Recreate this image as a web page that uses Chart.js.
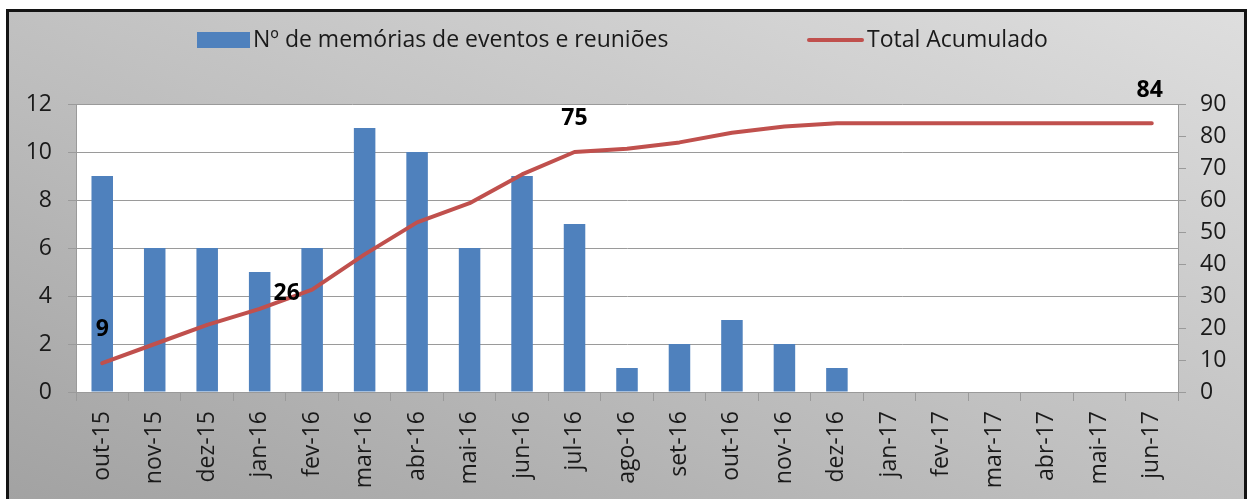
<!DOCTYPE html>
<html>
<head>
<meta charset="utf-8">
<script src="https://cdn.jsdelivr.net/npm/chart.js@4/dist/chart.umd.min.js"></script>
<style>
  html, body { margin: 0; padding: 0; background: #ffffff; width: 1247px; height: 499px; overflow: hidden; }
  #frame {
    position: absolute; left: 6px; top: 9px; width: 1235px; height: 490px;
    border: 3px solid #141414; border-bottom: none;
    background: linear-gradient(to top right, #a2a2a2 0%, #bebebe 45%, #dedede 100%);
  }
  canvas { display: block; }
</style>
</head>
<body>
<div id="frame"><canvas id="c" width="1235" height="487"></canvas></div>
<script>
const categories = ['out-15','nov-15','dez-15','jan-16','fev-16','mar-16','abr-16','mai-16','jun-16','jul-16','ago-16','set-16','out-16','nov-16','dez-16','jan-17','fev-17','mar-17','abr-17','mai-17','jun-17'];
const memorias = [9,6,6,5,6,11,10,6,9,7,1,2,3,2,1,0,0,0,0,0,0];
const acumulado = [9,15,21,26,32,43,53,59,68,75,76,78,81,83,84,84,84,84,84,84,84];
const labelledIdx = [0,3,9,20];
const leftTicks = [0,2,4,6,8,10,12];
const rightTicks = [0,10,20,30,40,50,60,70,80,90];
const seriesNames = ['Nº de memórias de eventos e reuniões','Total Acumulado'];

const BLUE = '#4F81BD', RED = '#C0504D', GRID = '#9a9a9a', TXT = '#1a1a1a';
const FONT = '"Open Sans", "DejaVu Sans", sans-serif';
const FS = 23;

const bgPlugin = {
  id: 'plotBg',
  beforeDraw(chart) {
    const a = chart.chartArea, ctx = chart.ctx;
    ctx.save(); ctx.fillStyle = '#ffffff';
    ctx.fillRect(a.left, a.top, a.right - a.left, a.bottom - a.top);
    ctx.restore();
  }
};

const labelOffsets = { 0: [0, -34], 3: [27, -15], 9: [0, -34], 20: [-2, -33] };
const dataLabelPlugin = {
  id: 'pointLabels',
  afterDatasetsDraw(chart) {
    const ctx = chart.ctx;
    const meta = chart.getDatasetMeta(1);
    ctx.save();
    ctx.font = 'bold ' + FS + 'px ' + FONT;
    ctx.fillStyle = '#000';
    ctx.textAlign = 'center'; ctx.textBaseline = 'middle';
    labelledIdx.forEach(i => {
      const p = meta.data[i]; const off = labelOffsets[i] || [0, -34];
      ctx.fillText(String(acumulado[i]), p.x + off[0], p.y + off[1]);
    });
    ctx.restore();
  }
};

const legendPlugin = {
  id: 'customLegend',
  afterDraw(chart) {
    const ctx = chart.ctx;
    ctx.save();
    ctx.font = FS + 'px ' + FONT;
    ctx.textBaseline = 'middle'; ctx.textAlign = 'left';
    ctx.fillStyle = BLUE; ctx.fillRect(188, 20, 53, 16);
    ctx.fillStyle = TXT; ctx.fillText(seriesNames[0], 244, 28);
    ctx.strokeStyle = RED; ctx.lineWidth = 4; ctx.lineCap = 'round';
    ctx.beginPath(); ctx.moveTo(800, 28); ctx.lineTo(853, 28); ctx.stroke();
    ctx.fillStyle = TXT; ctx.fillText(seriesNames[1], 858, 28);
    ctx.restore();
  }
};

new Chart(document.getElementById('c'), {
  data: {
    labels: categories,
    datasets: [
      { type: 'bar', label: seriesNames[0], data: memorias, backgroundColor: BLUE, yAxisID: 'y',
        barPercentage: 0.41, categoryPercentage: 1.0, order: 1 },
      { type: 'line', label: seriesNames[1], data: acumulado, borderColor: RED, borderWidth: 4,
        pointRadius: 0, tension: 0, yAxisID: 'y1', order: 0, borderCapStyle: 'round', borderJoinStyle: 'round' }
    ]
  },
  options: {
    responsive: false, animation: false,
    layout: { padding: { top: 92, left: 0, right: 0, bottom: 0 } },
    plugins: { legend: { display: false }, tooltip: { enabled: false } },
    scales: {
      x: {
        offset: true,
        grid: { drawOnChartArea: false, drawTicks: true, tickLength: 9, color: GRID, offset: true },
        border: { color: GRID, width: 1 },
        ticks: { minRotation: 90, maxRotation: 90, autoSkip: false, padding: 10, color: TXT, font: { family: FONT, size: FS } },
        afterFit(s) { s.height = 107; }
      },
      y: {
        position: 'left', min: 0, max: 12,
        afterBuildTicks(s) { s.ticks = leftTicks.map(v => ({ value: v })); },
        grid: { color: GRID, tickLength: 8, lineWidth: 1 },
        border: { color: GRID },
        ticks: { padding: 16, color: TXT, font: { family: FONT, size: FS } },
        afterFit(s) { s.width = 67; }
      },
      y1: {
        position: 'right', min: 0, max: 90,
        afterBuildTicks(s) { s.ticks = rightTicks.map(v => ({ value: v })); },
        grid: { drawOnChartArea: false, color: GRID, tickLength: 8 },
        border: { color: GRID },
        ticks: { padding: 14, color: TXT, font: { family: FONT, size: FS } },
        afterFit(s) { s.width = 66; }
      }
    }
  },
  plugins: [bgPlugin, dataLabelPlugin, legendPlugin]
});
</script>
</body>
</html>
